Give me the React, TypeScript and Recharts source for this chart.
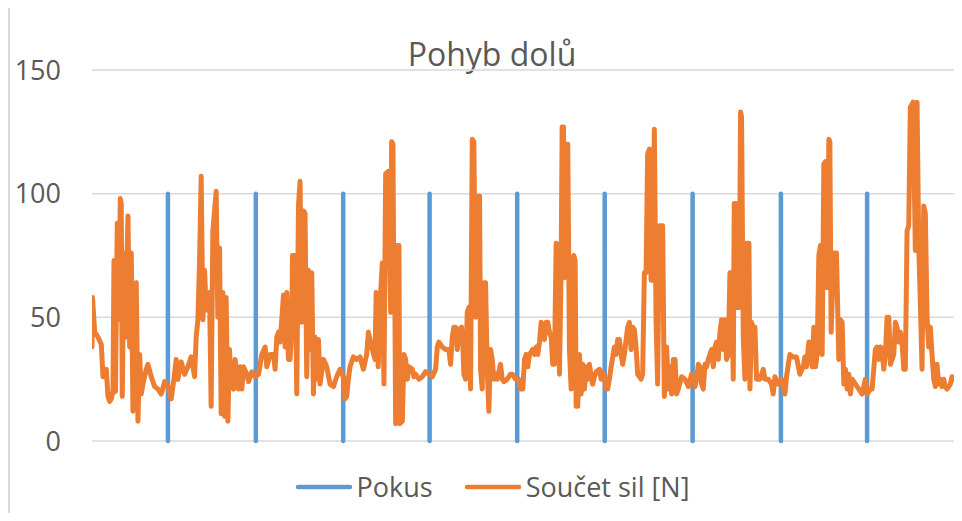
import { LineChart, Line, XAxis, YAxis, CartesianGrid, Legend } from "recharts"

// casy pokusu (vzorky) – svisle znacky do 100
const pokusTimes = [76, 164, 251.5, 338, 425.7, 513.3, 601.3, 689.7, 776]
const pokusLevel = 100

// soucet sil [N] – [vzorek, hodnota], po cyklech
const cyklus1: [number, number][] = [
  [0, 38], [0.5, 58], [2.7, 44], [6, 42], [9.3, 39], [11, 26], [14.3, 29], [16, 18], [17.7, 16], [19.3, 17],
  [21, 20], [22, 73], [23.5, 20], [25.3, 88], [26.7, 49], [28.3, 98], [29.3, 96], [30.3, 18], [32, 76], [33.3, 42],
  [36, 91], [37.7, 38], [39.3, 76], [41, 12], [42.7, 62], [44.3, 64], [46, 8], [47.7, 35], [49.3, 19], [51, 23],
  [54.3, 29], [56, 31], [59.3, 26], [62.7, 22], [66, 21], [69.3, 19], [72.7, 24], [76, 22], [79.3, 17], [82, 25],
  [84.3, 33], [86, 25], [89.3, 32], [92.7, 27], [96, 30], [99.3, 34], [102.7, 26], [104.3, 42], [106, 49], [107.7, 73],
  [109.3, 107], [111, 49], [112.7, 69], [114.3, 53], [117.7, 60], [119.3, 14], [121, 85], [124.3, 101], [126, 50], [127.7, 78],
  [129.3, 11], [131, 60], [132.7, 10], [134.3, 58], [136, 8], [137.7, 37], [139.3, 22], [141.7, 21], [143.3, 33],
]
const cyklus2: [number, number][] = [
  [145, 25], [146.7, 21], [148.3, 30], [150, 21], [151.7, 30], [155, 27], [156.7, 24], [160, 28], [163.3, 26], [166.7, 27],
  [170, 35], [173.3, 38], [175, 30], [178.3, 35], [181.7, 35], [183.3, 29], [185, 42], [186.7, 44], [188.3, 40], [190, 49],
  [191.7, 59], [193.3, 38], [195, 60], [196.7, 33], [198.3, 33], [200, 46], [200.7, 75], [203.3, 75], [205, 19], [206.7, 95],
  [208.3, 105], [210, 48], [211.7, 93], [213.3, 92], [215, 26], [216.7, 69], [218.3, 37], [220, 68], [221.7, 19], [223.3, 42],
  [225, 25], [226.7, 41], [228.3, 23], [231.7, 33], [235, 30], [238.3, 23], [241.7, 22], [245, 26], [248.3, 29], [251.7, 26],
  [253.3, 17], [255, 18], [256.7, 25], [258.3, 30], [261.7, 34], [265, 33], [268.3, 34], [271.7, 29], [275, 35], [276.7, 44],
  [280, 38], [283.3, 33],
]
const cyklus3: [number, number][] = [
  [284.5, 60], [286.5, 30], [289, 60], [290.7, 72], [292.3, 23], [294, 108], [296.7, 109], [299, 52], [300, 121], [301.3, 120],
  [302.3, 52], [303.3, 52], [304, 7], [305.7, 79], [307.3, 79], [308, 7], [310.7, 8], [312.3, 35], [314, 33], [315.7, 25],
  [317.3, 30], [320.7, 29], [322.3, 26], [324, 27], [327.3, 25], [330.7, 26], [334, 28], [337.3, 27], [340.7, 26], [344, 29],
  [345.7, 38], [347.3, 40], [350.7, 38], [354, 37], [357.3, 37], [359, 31], [360.7, 42], [362.3, 46], [364, 46], [365.7, 37],
  [367.3, 45], [370, 46], [371.3, 38], [372.3, 27], [374, 25], [375.7, 52], [377.3, 54], [379, 21], [380.7, 122], [382.3, 121],
  [384, 50], [385.7, 99], [388, 99], [389, 29], [390.7, 21], [392.3, 64], [394, 64], [395.7, 29], [397.3, 12], [399, 37],
  [400.7, 33], [402.3, 25], [404, 27], [405.7, 25], [409, 31], [410.7, 25], [412.3, 24], [415.7, 25], [419, 27], [420.7, 27],
  [424, 25], [427.3, 25],
]
const cyklus4: [number, number][] = [
  [429, 21], [431.3, 21], [433, 33], [434.7, 35], [436.3, 30], [438, 35], [441.3, 37], [443, 35], [444.7, 38], [446.3, 35],
  [448, 40], [449.7, 48], [451.3, 46], [453, 41], [454.7, 48], [456.3, 48], [458, 44], [459.7, 42], [461.3, 31], [463, 31],
  [464.7, 80], [466.3, 79], [468, 27], [469.7, 71], [470.7, 127], [472, 127], [473, 66], [474.7, 120], [476.3, 120], [478, 37],
  [479.7, 21], [480.7, 71], [482.3, 75], [483.7, 73], [484.7, 14], [486.3, 14], [488, 35], [489.7, 19], [491.3, 31], [493, 21],
  [494.7, 30], [496.3, 25], [498, 31], [499.7, 26], [501.3, 23], [503, 26], [504.7, 28], [508, 29], [509.7, 25], [511.3, 28],
  [513, 26], [514.7, 21], [516.3, 21], [518, 25], [519.7, 30], [523, 38], [524.7, 35], [526.3, 41], [528, 41], [529.7, 35],
  [531.3, 31], [533, 35], [534.7, 41], [536.3, 46], [538, 48], [539.7, 37], [541.3, 46], [543, 45], [544.7, 38], [546.3, 27],
  [548, 26], [549.7, 25], [551.3, 27], [553, 68], [554.7, 68], [556.3, 116], [558, 118], [559.7, 65], [561.3, 65], [563, 126],
  [564.7, 49], [566.3, 23], [568, 87], [571.3, 87], [573, 18],
]
const cyklus5: [number, number][] = [
  [575.3, 38], [577, 21], [578.7, 30], [580.3, 19], [582, 33], [583.7, 33], [585.3, 19], [587, 21], [590.3, 26], [593.7, 25],
  [597, 22], [600.3, 27], [603.7, 22], [605.3, 25], [607, 31], [608.7, 30], [610.3, 23], [612, 21], [613.7, 31], [615.3, 30],
  [617, 33], [620.3, 37], [622, 30], [623.7, 38], [625.3, 40], [627, 33], [628.7, 44], [630.3, 49], [632, 37], [633.7, 49],
  [635.3, 33], [637, 35], [638.7, 68], [640.3, 68], [642, 25], [643, 96], [644.7, 96], [646, 54], [648, 54], [649.3, 133],
  [650.3, 131], [652, 42], [653.7, 25], [655.3, 80], [657.7, 80], [658.7, 21], [660.3, 48], [662, 46], [663.7, 46], [665.3, 25],
  [668.7, 25], [672, 29], [673.7, 25], [677, 25], [680.3, 23], [682, 19], [683.7, 26], [687, 23], [690.3, 25], [693.7, 19],
  [695.3, 26], [698.7, 35], [702, 34], [705.3, 34], [708.7, 27], [712, 30], [713.7, 34], [715.3, 30],
]
const cyklus6: [number, number][] = [
  [717.7, 40], [719.3, 38], [721, 30], [722.7, 46], [724.3, 30], [726, 35], [727.7, 75], [729.3, 79], [731, 35], [732.7, 112],
  [734.3, 113], [736, 62], [737.7, 122], [738.7, 121], [740, 44], [742.7, 76], [745.3, 76], [747.7, 33], [749.3, 49], [751, 48],
  [752.7, 23], [754.3, 29], [756, 21], [757.7, 27], [759.3, 19], [761, 25], [764.3, 23], [767.7, 21], [771, 19], [774.3, 25],
  [776, 19], [779.3, 21], [781, 21], [784.3, 37], [786, 38], [787.7, 33], [789.3, 38], [791, 37], [792.7, 29], [794.3, 35],
  [796, 50], [797.7, 50], [799.3, 31], [802.7, 35], [804.3, 48], [806, 46], [807.7, 40], [809.3, 44], [811, 40], [812.7, 29],
  [814.3, 29], [816, 85], [817.7, 87], [819.3, 135], [822, 137], [824.3, 77], [826, 137], [827.7, 79], [829.3, 56], [831, 29],
  [832.7, 95], [834.3, 92], [836, 50], [837.7, 38], [839.3, 46], [841, 35], [842.7, 25], [844.3, 22], [846, 31], [847.7, 23],
  [849.3, 25], [851, 22], [852.7, 25], [854.3, 22], [856, 21], [859.3, 23], [861, 26], [864.3, 25], [866.7, 23],
]

const yTicks = [0, 50, 100, 150]

const silaData = [cyklus1, cyklus2, cyklus3, cyklus4, cyklus5, cyklus6]
  .flat()
  .map(([t, v]) => ({ t, sila: v }))

// kazdy pokus = svisla cara 0 -> 100, pak mezera
const pokusData = pokusTimes.flatMap((t) => [
  { t, pokus: 0 },
  { t, pokus: pokusLevel },
  { t, pokus: null },
])

const gray = "#595959"

function LegendRow({ payload }: any) {
  return (
    <div
      style={{
        boxSizing: "border-box",
        height: 64,
        paddingTop: 28,
        paddingLeft: 22,
        display: "flex",
        justifyContent: "center",
        fontFamily: "Open Sans",
      }}
    >
      {(payload || []).map((p: any, i: number) => (
        <div key={i} style={{ display: "flex", alignItems: "center", height: 36, marginLeft: i ? 31 : 0 }}>
          <svg width={58} height={8}>
            <line x1={3} y1={4} x2={55} y2={4} stroke={p.color} strokeWidth={4.5} strokeLinecap="round" />
          </svg>
          <span style={{ marginLeft: 4, fontSize: 27, color: gray, lineHeight: "36px" }}>{p.value}</span>
        </div>
      ))}
    </div>
  )
}

export default function App() {
  return (
    <div style={{ margin: -8, width: 962, height: 521, position: "relative", background: "#fff", overflow: "hidden" }}>
      <div style={{ position: "absolute", left: 8, top: 0, bottom: 0, width: 2, background: "#d9d9d9" }} />
      <div
        style={{
          position: "absolute",
          left: 292,
          width: 400,
          top: 38,
          textAlign: "center",
          fontFamily: "Open Sans",
          fontSize: 32,
          lineHeight: "32px",
          color: gray,
        }}
      >
        Pohyb dolů
      </div>
      <LineChart width={962} height={521} margin={{ top: 70, right: 4, bottom: 16, left: 0 }}>
        <CartesianGrid vertical={false} stroke="#d9d9d9" strokeWidth={1.5} />
        <XAxis dataKey="t" type="number" domain={[0, 867]} allowDataOverflow hide />
        <YAxis
          domain={[0, 150]}
          ticks={yTicks}
          width={92}
          axisLine={false}
          tickLine={false}
          tickSize={0}
          tickMargin={31}
          tick={{ fontSize: 27, fill: gray, fontFamily: "Open Sans" }}
        />
        <Legend
          verticalAlign="bottom"
          height={64}
          wrapperStyle={{ left: 0, width: 962 }}
          content={(props: any) => <LegendRow payload={props.payload} />}
        />
        <Line
          data={pokusData}
          dataKey="pokus"
          name="Pokus"
          type="linear"
          stroke="#5B9BD5"
          strokeWidth={4.5}
          strokeLinecap="round"
          dot={false}
          connectNulls={false}
          isAnimationActive={false}
        />
        <Line
          data={silaData}
          dataKey="sila"
          name="Součet sil [N]"
          type="linear"
          stroke="#ED7D31"
          strokeWidth={5}
          strokeLinejoin="round"
          strokeLinecap="round"
          dot={false}
          isAnimationActive={false}
        />
      </LineChart>
    </div>
  )
}
